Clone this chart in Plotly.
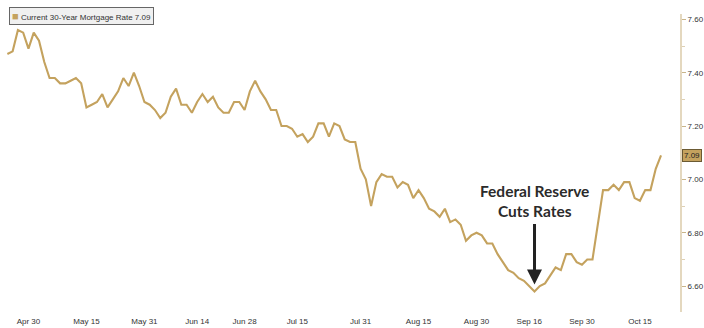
import pandas as pd
import plotly.graph_objects as go

# ---- data ----
holidays = ["2024-05-27", "2024-06-19", "2024-07-04", "2024-09-02"]
start_date = "2024-04-24"
rates = [
    7.47, 7.48, 7.56, 7.55, 7.49, 7.55, 7.52, 7.44, 7.38, 7.38,
    7.36, 7.36, 7.37, 7.38, 7.36, 7.27, 7.28, 7.29, 7.32, 7.27,
    7.30, 7.33, 7.38, 7.35, 7.40, 7.35, 7.29, 7.28, 7.26, 7.23,
    7.25, 7.31, 7.34, 7.28, 7.28, 7.25, 7.29, 7.32, 7.29, 7.31,
    7.27, 7.25, 7.25, 7.29, 7.29, 7.26, 7.33, 7.37, 7.33, 7.30,
    7.26, 7.26, 7.20, 7.20, 7.19, 7.16, 7.17, 7.14, 7.16, 7.21,
    7.21, 7.16, 7.21, 7.20, 7.15, 7.14, 7.14, 7.04, 7.00, 6.90,
    6.99, 7.02, 7.01, 7.01, 6.97, 6.99, 6.98, 6.93, 6.96, 6.93,
    6.89, 6.88, 6.86, 6.89, 6.84, 6.85, 6.83, 6.77, 6.79, 6.80,
    6.79, 6.76, 6.76, 6.72, 6.69, 6.66, 6.65, 6.63, 6.62, 6.60,
    6.58, 6.60, 6.61, 6.64, 6.67, 6.66, 6.72, 6.72, 6.69, 6.68,
    6.70, 6.70, 6.83, 6.96, 6.96, 6.98, 6.96, 6.99, 6.99, 6.93,
    6.92, 6.96, 6.96, 7.04, 7.09,
]
dates = pd.bdate_range(start_date, periods=len(rates), freq="C", holidays=holidays)

tick_dates = ["2024-04-30", "2024-05-15", "2024-05-31", "2024-06-14", "2024-06-28",
              "2024-07-15", "2024-07-31", "2024-08-15", "2024-08-30", "2024-09-16",
              "2024-09-30", "2024-10-15"]
tick_labels = ["Apr 30", "May 15", "May 31", "Jun 14", "Jun 28", "Jul 15",
               "Jul 31", "Aug 15", "Aug 30", "Sep 16", "Sep 30", "Oct 15"]
y_ticks = [6.6, 6.8, 7.0, 7.2, 7.4, 7.6]
series_name = "Current 30-Year Mortgage Rate"
annotation_text = "Federal Reserve<br>Cuts Rates"

LINE = "#c4a25e"
AXIS = "#e4d8bf"
TXT = "#333333"
FONT = "Liberation Sans"

last_val = rates[-1]
min_idx = rates.index(min(rates))

fig = go.Figure()
fig.add_trace(go.Scatter(
    x=dates, y=rates, mode="lines",
    line=dict(color=LINE, width=2.1),
    name=series_name, showlegend=False,
))

fig.update_layout(
    width=704, height=328,
    margin=dict(l=0, r=20, t=14, b=16),
    paper_bgcolor="white", plot_bgcolor="white",
    font=dict(family=FONT, size=8, color=TXT),
    xaxis=dict(
        range=[pd.Timestamp("2024-04-22 14:24"), pd.Timestamp("2024-10-24 14:24")],
        rangebreaks=[dict(bounds=["sat", "mon"]), dict(values=holidays)],
        tickvals=tick_dates, ticktext=tick_labels,
        showgrid=False, zeroline=False, showline=False, ticks="",
        tickfont=dict(family=FONT, size=8, color=TXT),
        ticklabelstandoff=3,
    ),
    yaxis=dict(
        side="right", range=[6.503, 7.62],
        tickvals=y_ticks, tickformat=".2f",
        showgrid=False, zeroline=False,
        showline=True, linecolor=AXIS, linewidth=2,
        ticks="outside", ticklen=4, tickwidth=1, tickcolor="#c9b58a",
        minor=dict(dtick=0.1, ticks="outside", ticklen=3, tickcolor="#ddd0b4", tick0=6.5),
        tickfont=dict(family=FONT, size=8, color=TXT),
        ticklabeloverflow="allow",
    ),
)

# legend box
fig.add_annotation(
    xref="paper", yref="paper", x=0.013, y=1.025, xanchor="left", yanchor="top",
    text=(f"<span style='color:{LINE};font-size:11px'>■</span> "
          f"{series_name} {last_val:.2f}"),
    showarrow=False, font=dict(family=FONT, size=8, color=TXT),
    bgcolor="#f0f0f0", bordercolor="#666666", borderwidth=1, borderpad=2, align="left",
)

# last value tag on the right axis
fig.add_annotation(
    xref="paper", yref="y", x=1.0, y=last_val, xanchor="left", yanchor="middle",
    text=f"{last_val:.2f}", showarrow=False,
    font=dict(family=FONT, size=8, color="#222222"),
    bgcolor=LINE, bordercolor="#6b5a33", borderwidth=1, borderpad=1, xshift=2,
)

# Fed annotation text
fig.add_annotation(
    x=dates[min_idx], y=6.92, xref="x", yref="y",
    text=f"<b>{annotation_text}</b>", showarrow=False,
    font=dict(family="Lato", size=15.5, color="#2b2b2b"), align="center",
    xanchor="center", yanchor="middle",
)
# Fed arrow
fig.add_annotation(
    x=dates[min_idx], y=min(rates), xref="x", yref="y",
    text="", showarrow=True, ax=0, ay=-69, axref="pixel", ayref="pixel",
    arrowhead=2, arrowsize=1, arrowwidth=3, arrowcolor="#222222", standoff=7,
)

fig.write_html("out.html", config={"displayModeBar": False},
               post_script="document.body.style.margin='0';")
